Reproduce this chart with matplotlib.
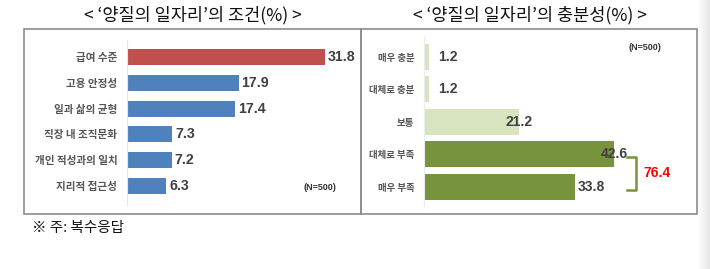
import matplotlib
matplotlib.use("Agg")
import matplotlib.pyplot as plt
import numpy as np
from matplotlib.patches import Rectangle
from matplotlib.lines import Line2D

plt.rcParams['font.family'] = ['Noto Sans CJK KR', 'DejaVu Sans']

# ---- data ----
left_title = "< ‘양질의 일자리’의 조건(%) >"
right_title = "< ‘양질의 일자리’의 충분성(%) >"
left_cats = ["급여 수준", "고용 안정성", "일과 삶의 균형", "직장 내 조직문화", "개인 적성과의 일치", "지리적 접근성"]
left_vals = [31.8, 17.9, 17.4, 7.3, 7.2, 6.3]
right_cats = ["매우 충분", "대체로 충분", "보통", "대체로 부족", "매우 부족"]
right_vals = [1.2, 1.2, 21.2, 42.6, 33.8]
sum_label = "76.4"
n_label = "(N=500)"
footnote = "※ 주: 복수응답"

W, H = 710, 269
fig = plt.figure(figsize=(W/100, H/100), dpi=100)
fig.patch.set_facecolor('white')

def fx(x): return x / W
def fy(y): return 1 - y / H

def axes_px(x0, y0, x1, y1):
    return fig.add_axes([fx(x0), fy(y1), (x1 - x0) / W, (y1 - y0) / H])

# right-edge shadow
axS = axes_px(697, 0, 710, 269)
grad = np.linspace(1.0, 0.9, 64)[None, :]
axS.imshow(np.dstack([grad, grad, grad]), aspect='auto', extent=(0, 1, 0, 1))
axS.axis('off')

# boxes
border = '#8c8c8c'
for (x0, x1) in [(24, 360.5), (360.5, 697)]:
    fig.patches.append(Rectangle((fx(x0), fy(214)), (x1 - x0) / W, (214 - 29) / H,
                                 transform=fig.transFigure, fill=False,
                                 edgecolor=border, linewidth=1.2))

num_font = ['Liberation Sans Narrow', 'Liberation Sans', 'DejaVu Sans']
txt_col = '#404040'

# ---- left panel ----
axL = axes_px(127, 40, 355, 205)
colorsL = ['#C0504D'] + ['#4F81BD'] * 5
axL.barh(range(len(left_cats)), left_vals, height=0.62, color=colorsL)
axL.set_xlim(0, 36.6)
axL.set_ylim(5.74, -0.66)
axL.set_yticks(range(len(left_cats)))
axL.set_yticklabels(left_cats, fontsize=7.6, fontweight='bold', color='#555555')
axL.tick_params(axis='y', length=0, pad=7)
axL.set_xticks([])
for s in ['top', 'right', 'bottom']:
    axL.spines[s].set_visible(False)
axL.spines['left'].set_color('#e6e6e6')
axL.spines['left'].set_linewidth(0.8)
axL.set_facecolor('none')
for i, v in enumerate(left_vals):
    axL.annotate(f"{v}", (v, i), xytext=(2, 0), textcoords='offset points',
                 ha='left', va='center', fontsize=10.2, fontweight='bold',
                 color=txt_col, family=num_font)
fig.text(fx(320), fy(187), n_label, ha='center', va='center', fontsize=6.5,
         fontweight='bold', color='#333333', family=['Liberation Sans', 'DejaVu Sans'])

# ---- right panel ----
axR = axes_px(424, 36, 690, 206)
colorsR = ['#D7E4BD', '#D7E4BD', '#D7E4BD', '#77933C', '#77933C']
axR.barh(range(len(right_cats)), right_vals, height=0.8, color=colorsR)
axR.set_xlim(0, 59.6)
axR.set_ylim(4.585, -0.646)
axR.set_yticks(range(len(right_cats)))
axR.set_yticklabels(right_cats, fontsize=6.8, fontweight='bold', color='#555555')
axR.tick_params(axis='y', length=0, pad=7)
axR.set_xticks([])
for s in ['top', 'right', 'bottom']:
    axR.spines[s].set_visible(False)
axR.spines['left'].set_color('#ececec')
axR.spines['left'].set_linewidth(0.8)
axR.set_facecolor('none')
offsets = [(6, 'left'), (6, 'left'), (0, 'center'), (0, 'center'), (2, 'left')]
for i, v in enumerate(right_vals):
    dx, ha = offsets[i]
    axR.annotate(f"{v}", (v, i), xytext=(dx, 0), textcoords='offset points',
                 ha=ha, va='center', fontsize=10, fontweight='bold',
                 color=txt_col, family=num_font)
fig.text(fx(645), fy(48), n_label, ha='center', va='center', fontsize=6.5,
         fontweight='bold', color='#333333', family=['Liberation Sans', 'DejaVu Sans'])

# bracket
bx = [fx(627), fx(636), fx(636), fx(627)]
by = [fy(156.5), fy(156.5), fy(189.5), fy(189.5)]
fig.lines.append(Line2D(bx, by, transform=fig.transFigure, color='#77933C', linewidth=1.8))
fig.text(fx(643), fy(173), sum_label, ha='left', va='center', fontsize=10,
         fontweight='bold', color='#FF0000', family=num_font)

# titles & footnote
fig.text(fx(193), fy(15), left_title, ha='center', va='center', fontsize=12.6, color='#111111')
fig.text(fx(530), fy(15), right_title, ha='center', va='center', fontsize=12.6, color='#111111')
fig.text(fx(32), fy(228), footnote, ha='left', va='center', fontsize=10.5, color='#111111')

fig.savefig('out.png', dpi=100, facecolor='white')
